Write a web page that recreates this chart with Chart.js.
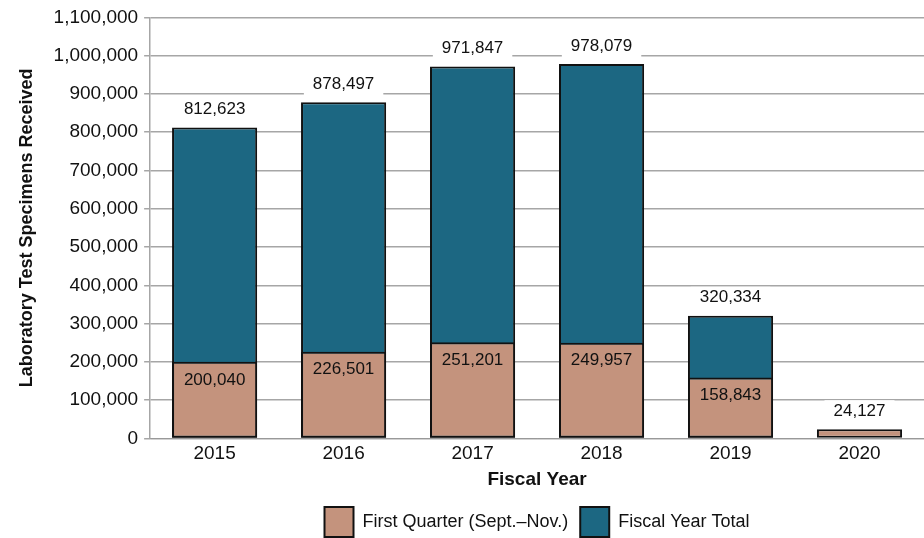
<!DOCTYPE html>
<html lang="en">
<head>
<meta charset="UTF-8">
<title>Laboratory Test Specimens Received</title>
<script src="https://cdn.jsdelivr.net/npm/chart.js"></script>
<style>
  body { margin: 0; background: #fff; }
  #wrap { width: 924px; height: 538px; }
</style>
</head>
<body>
<div id="wrap"><canvas id="myChart" width="924" height="538"></canvas></div>
<script>
const years = ['2015', '2016', '2017', '2018', '2019', '2020'];
const firstQuarter = [200040, 226501, 251201, 249957, 158843, 24127];
const yearTotal = [812623, 878497, 971847, 978079, 320334, null];

const fmt = v => v.toLocaleString('en-US');

// value labels: totals above the bar, first quarter inside (or above when no total)
const barLabels = {
  id: 'barLabels',
  afterDatasetsDraw(chart) {
    const ctx = chart.ctx;
    ctx.save();
    ctx.font = '17px "Liberation Sans", Arial, sans-serif';
    ctx.textAlign = 'center';
    ctx.textBaseline = 'middle';
    const fq = chart.getDatasetMeta(0).data;
    const tot = chart.getDatasetMeta(1).data;
    years.forEach((y, i) => {
      if (yearTotal[i] != null) {
        const b = tot[i];
        const txt = fmt(yearTotal[i]);
        const w = ctx.measureText(txt).width;
        ctx.fillStyle = '#fff';
        ctx.fillRect(b.x - w / 2 - 9, b.y - 29, w + 18, 22);
        ctx.fillStyle = '#111';
        ctx.fillText(txt, b.x, b.y - 18);
        ctx.fillText(fmt(firstQuarter[i]), fq[i].x, fq[i].y + 18);
      } else {
        const b = fq[i];
        const txt = fmt(firstQuarter[i]);
        const w = ctx.measureText(txt).width;
        ctx.fillStyle = '#fff';
        ctx.fillRect(b.x - w / 2 - 9, b.y - 29, w + 18, 22);
        ctx.fillStyle = '#111';
        ctx.fillText(txt, b.x, b.y - 18);
      }
    });
    ctx.restore();
  }
};

Chart.defaults.font.family = '"Liberation Sans", Arial, sans-serif';
Chart.defaults.color = '#111';

new Chart(document.getElementById('myChart').getContext('2d'), {
  type: 'bar',
  data: {
    labels: years,
    datasets: [
      {
        label: 'First Quarter (Sept.\u2013Nov.)',
        data: firstQuarter,
        backgroundColor: '#c4937d',
        borderColor: '#111',
        borderWidth: 2,
        borderSkipped: false,
        barPercentage: 0.66,
        categoryPercentage: 1
      },
      {
        label: 'Fiscal Year Total',
        data: yearTotal,
        backgroundColor: '#1c6782',
        borderColor: '#111',
        borderWidth: 2,
        borderSkipped: false,
        barPercentage: 0.66,
        categoryPercentage: 1
      }
    ]
  },
  options: {
    responsive: false,
    animation: false,
    layout: { padding: { top: 6, right: 0, left: 12, bottom: -9 } },
    plugins: {
      tooltip: { enabled: false },
      legend: {
        position: 'bottom',
        fullSize: false,
        labels: {
          boxWidth: 29,
          boxHeight: 30,
          padding: 12,
          font: { size: 18 },
          color: '#111'
        }
      }
    },
    scales: {
      x: {
        stacked: true,
        grid: { display: false, drawTicks: false },
        border: { color: '#999', width: 1 },
        ticks: { font: { size: 19 }, color: '#111', padding: 4 },
        title: {
          display: true,
          text: 'Fiscal Year',
          font: { size: 19, weight: 'bold' },
          color: '#111',
          padding: { top: -1, bottom: 4 }
        }
      },
      y: {
        stacked: false,
        min: 0,
        max: 1100000,
        grid: { color: '#a6a6a6', lineWidth: 1.5, tickLength: 6 },
        border: { color: '#a6a6a6', width: 1.5 },
        ticks: {
          stepSize: 100000,
          font: { size: 19 },
          color: '#111',
          padding: 6,
          callback: v => fmt(v)
        },
        title: {
          display: true,
          text: 'Laboratory Test Specimens Received',
          font: { size: 18, weight: 'bold' },
          color: '#111',
          padding: { bottom: 10 }
        }
      }
    }
  },
  plugins: [barLabels]
});
</script>
</body>
</html>
